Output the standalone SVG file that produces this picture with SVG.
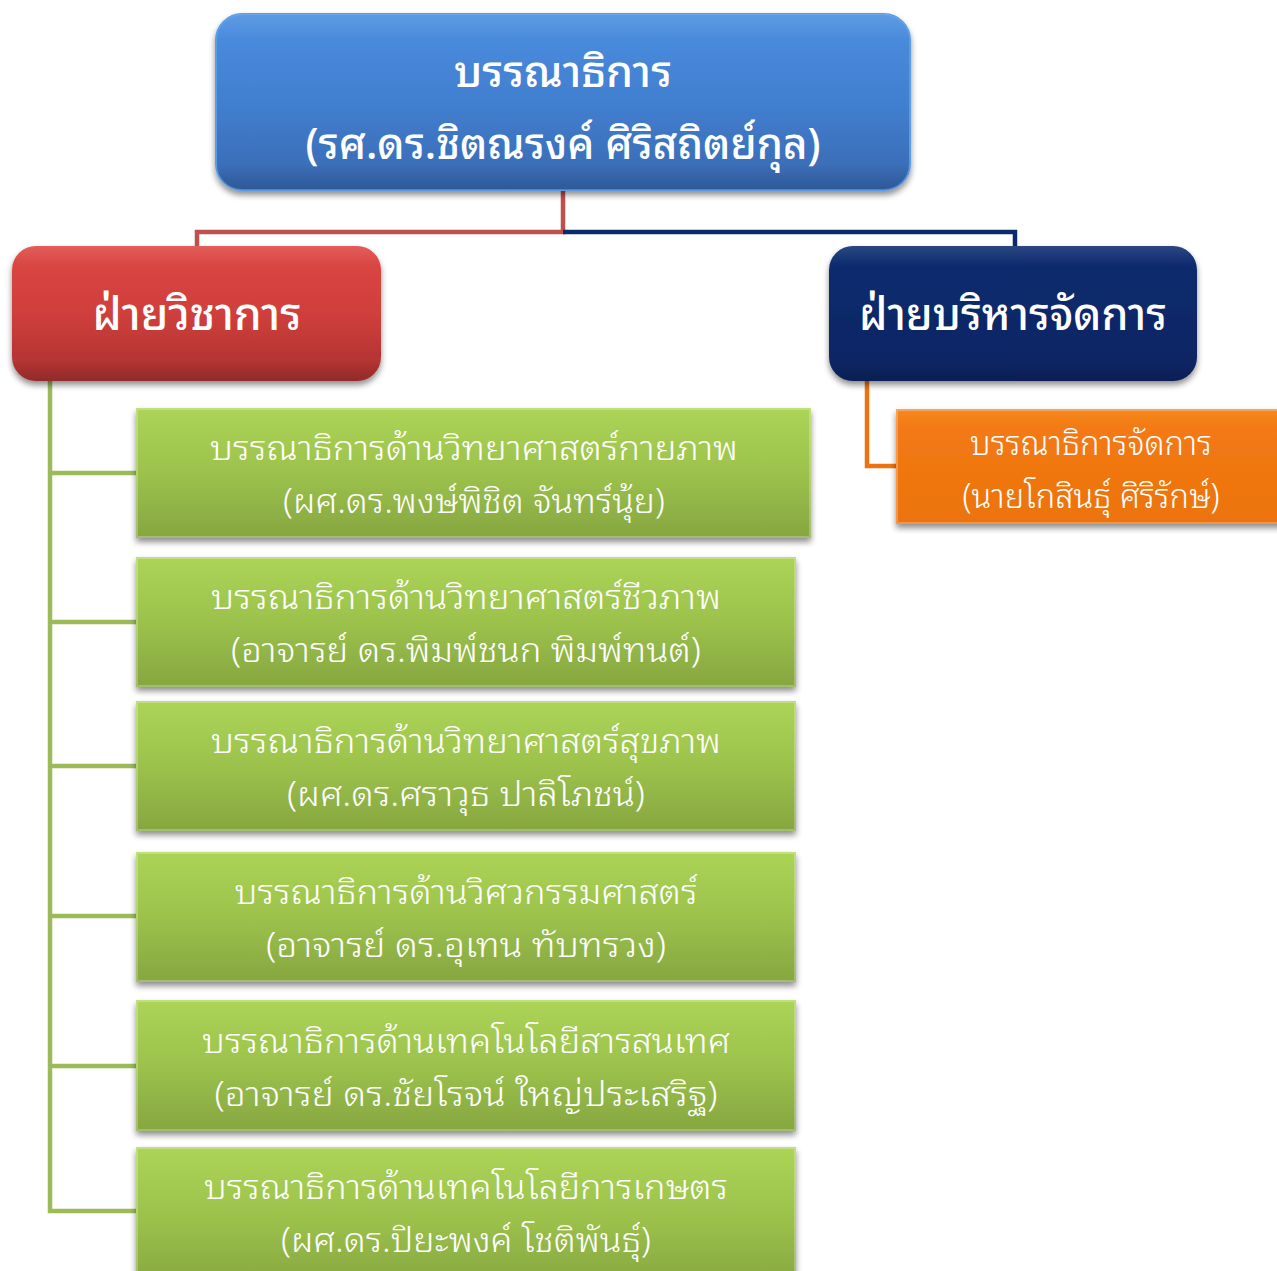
<svg xmlns="http://www.w3.org/2000/svg" width="1277" height="1271" viewBox="0 0 1277 1271">
<defs>
  <linearGradient id="gBlue" x1="0" y1="0" x2="0" y2="1">
    <stop offset="0" stop-color="#4a8ee0"/>
    <stop offset="0.5" stop-color="#427fd0"/>
    <stop offset="1" stop-color="#3868b0"/>
  </linearGradient>
  <linearGradient id="gRed" x1="0" y1="0" x2="0" y2="1">
    <stop offset="0" stop-color="#de4744"/>
    <stop offset="0.5" stop-color="#cf3f3c"/>
    <stop offset="1" stop-color="#aa3030"/>
  </linearGradient>
  <linearGradient id="gNavy" x1="0" y1="0" x2="0" y2="1">
    <stop offset="0" stop-color="#0c2d70"/>
    <stop offset="1" stop-color="#082462"/>
  </linearGradient>
  <linearGradient id="gOrange" x1="0" y1="0" x2="0" y2="1">
    <stop offset="0" stop-color="#f68a22"/>
    <stop offset="0.15" stop-color="#f37a12"/>
    <stop offset="1" stop-color="#ec7310"/>
  </linearGradient>
  <linearGradient id="gGreen" x1="0" y1="0" x2="0" y2="1">
    <stop offset="0" stop-color="#acd456"/>
    <stop offset="0.5" stop-color="#9cc24c"/>
    <stop offset="1" stop-color="#86a640"/>
  </linearGradient>
  <linearGradient id="gGlossR" x1="0" y1="0" x2="0" y2="1">
    <stop offset="0" stop-color="#ffffff" stop-opacity="0.12"/>
    <stop offset="0.15" stop-color="#ffffff" stop-opacity="0"/>
    <stop offset="0.85" stop-color="#000000" stop-opacity="0"/>
    <stop offset="1" stop-color="#000000" stop-opacity="0.15"/>
  </linearGradient>
  <filter id="shadow" x="-10%" y="-10%" width="120%" height="130%">
    <feGaussianBlur in="SourceAlpha" stdDeviation="3"/>
    <feOffset dx="0" dy="4" result="b"/>
    <feComponentTransfer><feFuncA type="linear" slope="0.45"/></feComponentTransfer>
    <feMerge><feMergeNode/><feMergeNode in="SourceGraphic"/></feMerge>
  </filter>
</defs>
<style>
  .conn { fill: none; stroke-width: 4.5; stroke-linejoin: miter; }
  .hd { font-family: "Noto Sans Thai Looped", "Loma", "Garuda", "Noto Sans Thai", "Noto Sans", "DejaVu Sans", sans-serif; fill: #ffffff; text-anchor: middle; font-weight: 500; }
  .sub { font-family: "Noto Sans Thai Looped", "Loma", "Garuda", "Noto Sans Thai", "Noto Sans", "DejaVu Sans", sans-serif; fill: #ffffff; text-anchor: middle; font-weight: 300; font-size: 34px; }
  .bevel { fill: none; stroke: #ffffff; stroke-opacity: 0.25; stroke-width: 2; }
</style>

<g id="connectors">
  <polyline class="conn" stroke="#c0504d" points="563,190 563,232 197,232 197,248"/>
  <polyline class="conn" stroke="#0b2a6b" points="563,232 1015,232 1015,248"/>
  <polyline class="conn" stroke="#9bbb59" points="50,380 50,1211 136,1211"/>
  <line class="conn" stroke="#9bbb59" x1="50" y1="473" x2="136" y2="473"/>
  <line class="conn" stroke="#9bbb59" x1="50" y1="622" x2="136" y2="622"/>
  <line class="conn" stroke="#9bbb59" x1="50" y1="766" x2="136" y2="766"/>
  <line class="conn" stroke="#9bbb59" x1="50" y1="916" x2="136" y2="916"/>
  <line class="conn" stroke="#9bbb59" x1="50" y1="1066" x2="136" y2="1066"/>
  <polyline class="conn" stroke="#ec7310" points="867,380 867,466 897,466"/>
</g>

<g id="editor-in-chief">
  <rect x="216" y="14" width="694" height="176" rx="26" fill="url(#gBlue)" stroke="#5b9be6" stroke-width="2" filter="url(#shadow)"/>
  <rect x="216" y="14" width="694" height="176" rx="26" fill="url(#gGlossR)"/>
  <text class="hd" x="563" y="87" font-size="44" textLength="218" lengthAdjust="spacingAndGlyphs">บรรณาธิการ</text>
  <text class="hd" x="563" y="159" font-size="44" textLength="515" lengthAdjust="spacingAndGlyphs">(รศ.ดร.ชิตณรงค์ ศิริสถิตย์กุล)</text>
</g>

<g id="academic">
  <rect x="12" y="246" width="369" height="135" rx="24" fill="url(#gRed)" filter="url(#shadow)"/>
  <rect x="12" y="246" width="369" height="135" rx="24" fill="url(#gGlossR)"/>
  <text class="hd" x="197" y="330" font-size="46" textLength="209" lengthAdjust="spacingAndGlyphs">ฝ่ายวิชาการ</text>
</g>

<g id="management">
  <rect x="829" y="246" width="368" height="135" rx="24" fill="url(#gNavy)" filter="url(#shadow)"/>
  <rect x="829" y="246" width="368" height="135" rx="24" fill="url(#gGlossR)"/>
  <text class="hd" x="1013" y="330" font-size="46" textLength="308" lengthAdjust="spacingAndGlyphs">ฝ่ายบริหารจัดการ</text>
</g>

<g id="managing-editor">
  <rect x="896" y="409" width="390" height="115" fill="url(#gOrange)" filter="url(#shadow)"/>
  <rect x="897" y="410" width="388" height="113" class="bevel"/>
  <text class="sub" x="1091" y="455" textLength="242" lengthAdjust="spacingAndGlyphs">บรรณาธิการจัดการ</text>
  <text class="sub" x="1091" y="508" textLength="257" lengthAdjust="spacingAndGlyphs">(นายโกสินธุ์ ศิริรักษ์)</text>
</g>

<g id="editor-physical">
  <rect x="136" y="408" width="675" height="130" fill="url(#gGreen)" filter="url(#shadow)"/>
  <rect x="137" y="409" width="673" height="128" class="bevel"/>
  <text class="sub" x="474" y="460" textLength="528" lengthAdjust="spacingAndGlyphs">บรรณาธิการด้านวิทยาศาสตร์กายภาพ</text>
  <text class="sub" x="474" y="513" textLength="382" lengthAdjust="spacingAndGlyphs">(ผศ.ดร.พงษ์พิชิต จันทร์นุ้ย)</text>
</g>

<g id="editor-biological">
  <rect x="136" y="557" width="660" height="130" fill="url(#gGreen)" filter="url(#shadow)"/>
  <rect x="137" y="558" width="658" height="128" class="bevel"/>
  <text class="sub" x="466" y="609" textLength="510" lengthAdjust="spacingAndGlyphs">บรรณาธิการด้านวิทยาศาสตร์ชีวภาพ</text>
  <text class="sub" x="466" y="662" textLength="470" lengthAdjust="spacingAndGlyphs">(อาจารย์ ดร.พิมพ์ชนก พิมพ์ทนต์)</text>
</g>

<g id="editor-health">
  <rect x="136" y="701" width="660" height="130" fill="url(#gGreen)" filter="url(#shadow)"/>
  <rect x="137" y="702" width="658" height="128" class="bevel"/>
  <text class="sub" x="466" y="753" textLength="510" lengthAdjust="spacingAndGlyphs">บรรณาธิการด้านวิทยาศาสตร์สุขภาพ</text>
  <text class="sub" x="466" y="806" textLength="358" lengthAdjust="spacingAndGlyphs">(ผศ.ดร.ศราวุธ ปาลิโภชน์)</text>
</g>

<g id="editor-engineering">
  <rect x="136" y="852" width="660" height="130" fill="url(#gGreen)" filter="url(#shadow)"/>
  <rect x="137" y="853" width="658" height="128" class="bevel"/>
  <text class="sub" x="466" y="904" textLength="463" lengthAdjust="spacingAndGlyphs">บรรณาธิการด้านวิศวกรรมศาสตร์</text>
  <text class="sub" x="466" y="957" textLength="400" lengthAdjust="spacingAndGlyphs">(อาจารย์ ดร.อุเทน ทับทรวง)</text>
</g>

<g id="editor-it">
  <rect x="136" y="1000" width="660" height="131" fill="url(#gGreen)" filter="url(#shadow)"/>
  <rect x="137" y="1001" width="658" height="129" class="bevel"/>
  <text class="sub" x="466" y="1053" textLength="528" lengthAdjust="spacingAndGlyphs">บรรณาธิการด้านเทคโนโลยีสารสนเทศ</text>
  <text class="sub" x="466" y="1106" textLength="503" lengthAdjust="spacingAndGlyphs">(อาจารย์ ดร.ชัยโรจน์ ใหญ่ประเสริฐ)</text>
</g>

<g id="editor-agri">
  <rect x="136" y="1147" width="660" height="140" fill="url(#gGreen)" filter="url(#shadow)"/>
  <rect x="137" y="1148" width="658" height="138" class="bevel"/>
  <text class="sub" x="466" y="1199" textLength="524" lengthAdjust="spacingAndGlyphs">บรรณาธิการด้านเทคโนโลยีการเกษตร</text>
  <text class="sub" x="466" y="1252" textLength="370" lengthAdjust="spacingAndGlyphs">(ผศ.ดร.ปิยะพงค์ โชติพันธุ์)</text>
</g>
</svg>
